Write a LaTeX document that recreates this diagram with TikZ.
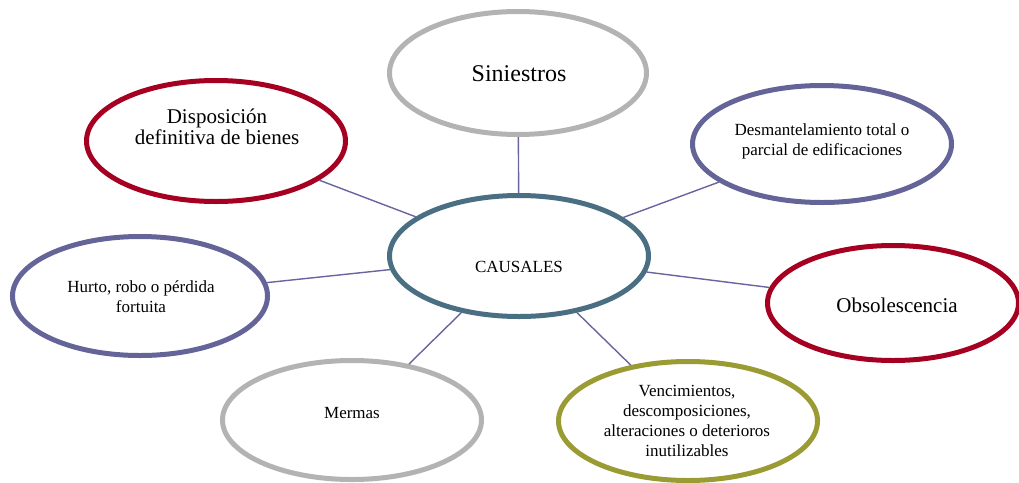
\documentclass[tikz,border=0pt]{standalone}
\usepackage{fontspec}
\setmainfont{Liberation Serif}
\usetikzlibrary{shapes.geometric}
\definecolor{cgray}{RGB}{179,179,179}
\definecolor{cred}{RGB}{165,0,33}
\definecolor{cpurple}{RGB}{100,100,152}
\definecolor{cteal}{RGB}{74,110,130}
\definecolor{colive}{RGB}{155,155,52}
\definecolor{cline}{RGB}{104,100,160}
\tikzset{
  oval/.style={ellipse, draw=#1, line width=5pt, fill=white, inner sep=0pt},
  big/.style={font=\fontsize{21}{21}\selectfont, align=center, inner sep=0pt},
  small/.style={font=\fontsize{17}{20}\selectfont, align=center, inner sep=0pt},
  link/.style={draw=cline, line width=1.4pt}
}
\begin{document}
\begin{tikzpicture}[x=1pt,y=-1pt]
\useasboundingbox (0,0) rectangle (1019,482);
% ellipses (outer radii rx, ry -> min size 2r-5)
\node[oval=cgray,   minimum width=257pt, minimum height=123pt] (sin)   at (518,73)  {};
\node[oval=cred,    minimum width=259pt, minimum height=121pt] (disp)  at (216,141) {};
\node[oval=cpurple, minimum width=259pt, minimum height=117pt] (desm)  at (822,144) {};
\node[oval=cteal,   minimum width=259pt, minimum height=121pt] (caus)  at (519,256) {};
\node[oval=cred,    minimum width=251pt, minimum height=115pt] (obs)   at (893,303) {};
\node[oval=cpurple, minimum width=255pt, minimum height=119pt] (hurto) at (140,296) {};
\node[oval=cgray,   minimum width=259pt, minimum height=119pt] (merm)  at (352,420) {};
\node[oval=colive,  minimum width=259pt, minimum height=119pt] (venc)  at (688,421) {};
% texts
\node[big, font=\fontsize{24}{24}\selectfont] (sin-t) at (519,74) {Siniestros};
\node[big] (disp-t) at (217,127) {Disposición\\definitiva de bienes};
\node[small] (desm-t) at (822,141) {Desmantelamiento total o\\parcial de edificaciones};
\node[small] (caus-t) at (519,267) {CAUSALES};
\node[big] (obs-t) at (897,305) {Obsolescencia};
\node[small] (hurto-t) at (141,297) {Hurto, robo o pérdida\\fortuita};
\node[small] (merm-t) at (352,413) {Mermas};
\node[small] (venc-t) at (687,421) {Vencimientos,\\descomposiciones,\\alteraciones o deterioros\\inutilizables};
% connectors
\draw[link] (caus) -- (sin);
\draw[link] (caus) -- (disp);
\draw[link] (caus) -- (desm);
\draw[link] (caus) -- (hurto);
\draw[link] (caus) -- (obs);
\draw[link] (caus) -- (merm);
\draw[link] (caus) -- (venc);
\end{tikzpicture}
\end{document}
